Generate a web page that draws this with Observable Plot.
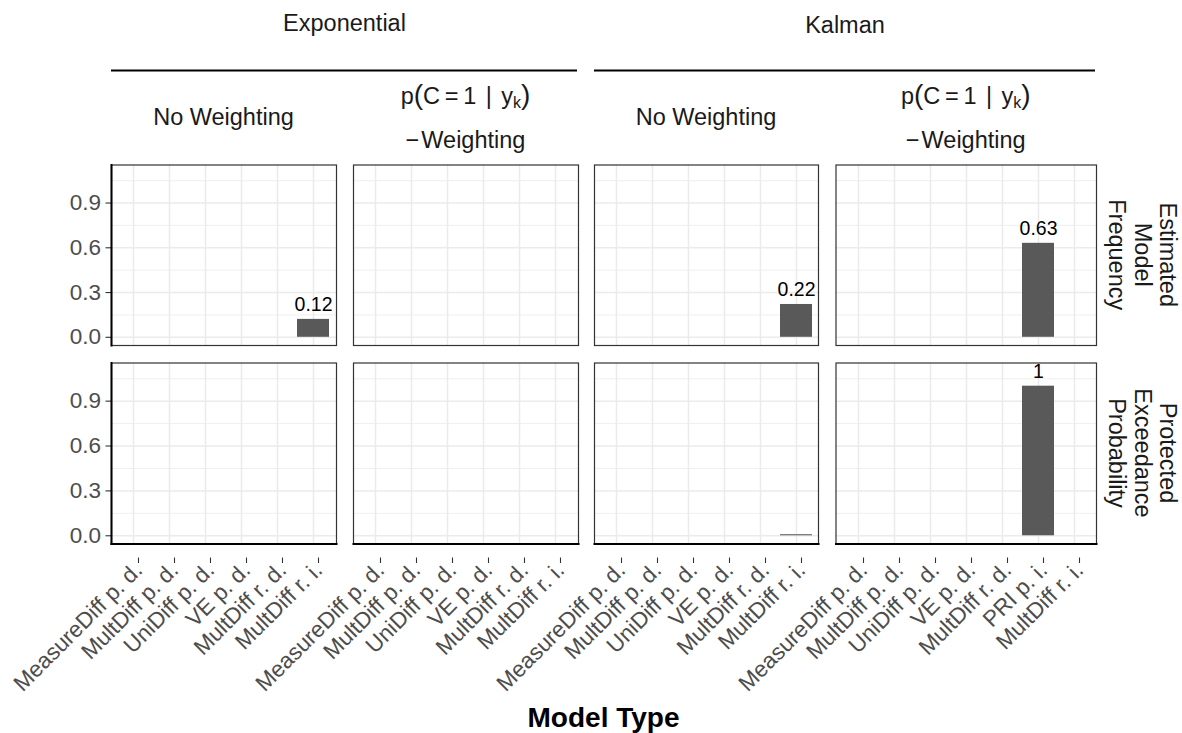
<!DOCTYPE html>
<html>
<head>
<meta charset="utf-8">
<script src="https://cdn.jsdelivr.net/npm/d3@7"></script>
<script src="https://cdn.jsdelivr.net/npm/@observablehq/plot@0.6"></script>
<style>
  html, body { margin: 0; padding: 0; background: #ffffff; }
  #chart { position: relative; width: 1182px; height: 733px; overflow: hidden; font-family: "Liberation Sans", Arial, sans-serif; }
  #chart svg { position: absolute; left: 0; top: 0; }
</style>
</head>
<body>
<div id="chart"></div>
<script>
// ---------------- data ----------------
const methodGroups = ["Exponential", "Kalman"];
const weightingLabels = ["No Weighting", "p-Weighting", "No Weighting", "p-Weighting"];
const panelMethod = ["Exponential", "Exponential", "Kalman", "Kalman"];
const rowLabels = [["Estimated", "Model", "Frequency"], ["Protected", "Exceedance", "Probability"]];

const modelsStd = ["MeasureDiff p. d.", "MultDiff p. d.", "UniDiff p. d.", "VE p. d.", "MultDiff r. d.", "MultDiff r. i."];
const modelsPRI = ["MeasureDiff p. d.", "MultDiff p. d.", "UniDiff p. d.", "VE p. d.", "MultDiff r. d.", "PRI p. i.", "MultDiff r. i."];
const panelModels = [modelsStd, modelsStd, modelsStd, modelsPRI];

// Estimated Model Frequency
const freqExpNoW = [0, 0, 0, 0, 0, 0.12];
const freqExpPW  = [0, 0, 0, 0, 0, 0];
const freqKalNoW = [0, 0, 0, 0, 0, 0.22];
const freqKalPW  = [0, 0, 0, 0, 0, 0.63, 0];
// Protected Exceedance Probability
const pepExpNoW = [0, 0, 0, 0, 0, 0];
const pepExpPW  = [0, 0, 0, 0, 0, 0];
const pepKalNoW = [0, 0, 0, 0, 0, 0.007];
const pepKalPW  = [0, 0, 0, 0, 0, 1, 0];

const rowValues = [
  [freqExpNoW, freqExpPW, freqKalNoW, freqKalPW],
  [pepExpNoW, pepExpPW, pepKalNoW, pepKalPW]
];

const yTicks = [0, 0.3, 0.6, 0.9];
const yMinorTicks = [0.15, 0.45, 0.75, 1.05];
const xTitle = "Model Type";

// ---------------- layout ----------------
const W = 1182, H = 733;
const colX = [[111, 336], [353, 578], [594, 818], [835.5, 1096]];
const rowY = [[164.5, 345], [362.5, 543.5]];
const FONT = "'Liberation Sans', Arial, sans-serif";
const chart = document.getElementById("chart");

for (let r = 0; r < 2; r++) {
  for (let c = 0; c < 4; c++) {
    const models = panelModels[c];
    const vals = rowValues[r][c];
    const data = models.map((m, i) => ({model: m, value: vals[i]}));
    const labels = data.filter(d => d.value >= 0.05).map(d => ({...d, label: String(Math.round(d.value * 100) / 100)}));
    const left = c === 0, bottom = r === 1;
    const marks = [
      Plot.gridY(yMinorTicks, {stroke: "#ebebeb", strokeWidth: 0.8, strokeOpacity: 1}),
      Plot.gridY(yTicks, {stroke: "#ebebeb", strokeWidth: 1.5, strokeOpacity: 1}),
      Plot.gridX(models, {stroke: "#ebebeb", strokeWidth: 1.5, strokeOpacity: 1}),
      Plot.barY(data, {x: "model", y: "value", fill: "#595959"}),
      Plot.text(labels, {x: "model", y: "value", text: "label", dy: -8, lineAnchor: "bottom", fontSize: 19.5, fill: "#000000"}),
      Plot.frame({stroke: "#333333", strokeWidth: 1.2})
    ];
    if (left) {
      marks.push(Plot.axisY(yTicks, {label: null, tickSize: 5.5, tickPadding: 5, tickFormat: d3.format(".1f"), fontSize: 22.5, color: "#4d4d4d", stroke: "#333333", strokeWidth: 1.1}));
      marks.push(Plot.frame({anchor: "left", stroke: "#000000", strokeWidth: 2}));
    }
    if (bottom) {
      marks.push(Plot.axisX({label: null, tickSize: 5.5, tickPadding: 3, tickRotate: -45, dx: 5, dy: 14, fontSize: 22.5, color: "#4d4d4d", stroke: "#333333", strokeWidth: 1.1}));
      marks.push(Plot.frame({anchor: "bottom", stroke: "#000000", strokeWidth: 2}));
    }
    const svg = Plot.plot({
      width: W, height: H,
      marginLeft: colX[c][0], marginRight: W - colX[c][1],
      marginTop: rowY[r][0], marginBottom: H - rowY[r][1],
      style: {background: "transparent", overflow: "visible", fontFamily: FONT},
      x: {type: "band", domain: models, paddingInner: 0.1, paddingOuter: 0.15, align: 0.5, axis: null},
      y: {domain: [-0.055, 1.155], axis: null},
      marks
    });
    chart.appendChild(svg);
  }
}

// ---------------- strips & title overlay ----------------
const ov = d3.select(chart).append("svg")
  .attr("width", W).attr("height", H)
  .style("font-family", FONT);

const stripColor = "#1a1a1a";
// top-level method strips
const groupSpan = {Exponential: [colX[0][0], colX[1][1]], Kalman: [colX[2][0], colX[3][1]]};
const groupBaseline = {Exponential: 30.5, Kalman: 32.5};
methodGroups.forEach(g => {
  const [a, b] = groupSpan[g];
  ov.append("text").attr("x", (a + b) / 2).attr("y", groupBaseline[g])
    .attr("text-anchor", "middle").attr("font-size", 23.5).attr("fill", stripColor).text(g);
  ov.append("line").attr("x1", a).attr("x2", b - 1).attr("y1", 70.5).attr("y2", 70.5)
    .attr("stroke", "#000").attr("stroke-width", 2);
});

// weighting strips
weightingLabels.forEach((w, c) => {
  const cx = (colX[c][0] + colX[c][1]) / 2;
  if (w === "No Weighting") {
    ov.append("text").attr("x", cx).attr("y", 125)
      .attr("text-anchor", "middle").attr("font-size", 23.5).attr("fill", stripColor).text(w);
  } else {
    const t = ov.append("text").attr("x", cx).attr("y", 104)
      .attr("text-anchor", "middle").attr("font-size", 23.5).attr("fill", stripColor);
    t.append("tspan").text("p");
    t.append("tspan").attr("font-size", 28).attr("font-weight", 300).text("(");
    t.append("tspan").text("C\u2009=\u20091\u2009\u2009|\u2009\u2009y");
    t.append("tspan").attr("font-size", 16).attr("dy", 4).text("k");
    t.append("tspan").attr("font-size", 28).attr("dy", -4).text(")");
    const t2 = ov.append("text").attr("x", cx).attr("y", 147.5)
      .attr("text-anchor", "middle").attr("font-size", 23.5).attr("fill", stripColor);
    t2.append("tspan").text("\u2212");
    t2.append("tspan").attr("dx", 2).text("Weighting");
  }
});

// row strips (rotated)
const lineX = [1160, 1134.5, 1109];
rowLabels.forEach((lines, r) => {
  const cy = (rowY[r][0] + rowY[r][1]) / 2;
  lines.forEach((txt, i) => {
    ov.append("text")
      .attr("transform", `translate(${lineX[i]},${cy}) rotate(90)`)
      .attr("text-anchor", "middle").attr("font-size", 23.5).attr("fill", stripColor)
      .text(txt);
  });
});

// x-axis title
ov.append("text").attr("x", (colX[0][0] + colX[3][1]) / 2).attr("y", 727)
  .attr("text-anchor", "middle").attr("font-size", 28).attr("font-weight", "bold")
  .attr("fill", "#000").text(xTitle);
</script>
</body>
</html>
